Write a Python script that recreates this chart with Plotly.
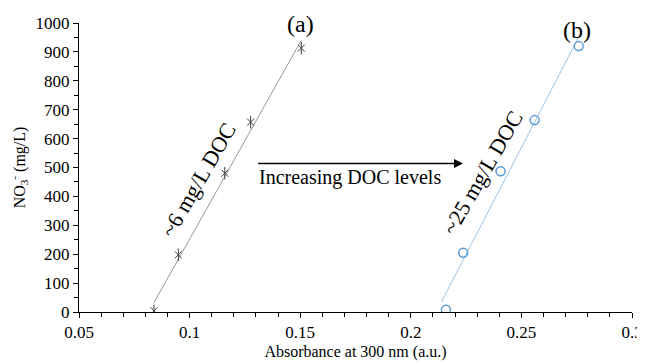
import numpy as np
import plotly.graph_objects as go

# Series (a): ~6 mg/L DOC
abs_a = [0.0839, 0.0949, 0.1159, 0.1276, 0.1505]
no3_a = [4, 198, 480, 657, 913]
# Series (b): ~25 mg/L DOC
abs_b = [0.2159, 0.2237, 0.2406, 0.2560, 0.2759]
no3_b = [8, 205, 487, 664, 920]

# trendline backward forecast (x units), like Excel's option
back_a, back_b = 0.0, 0.002

FONT = "Liberation Serif, Times New Roman, serif"
GRAY = "#404040"
BLUE = "#5B9BD5"

def fit_line(x, y, back):
    m, c = np.polyfit(x, y, 1)
    xs = np.array([min(x) - back, max(x)])
    return xs, m * xs + c

fig = go.Figure()

xa, ya = fit_line(abs_a, no3_a, back_a)
xb, yb = fit_line(abs_b, no3_b, back_b)

fig.add_trace(go.Scatter(x=xa, y=ya, mode="lines",
                         line=dict(color="#8c8c8c", width=0.9), showlegend=False, hoverinfo="skip"))
fig.add_trace(go.Scatter(x=xb, y=yb, mode="lines",
                         line=dict(color="#9DC3E6", width=1), showlegend=False, hoverinfo="skip"))

# star markers (x + vertical bar)
fig.add_trace(go.Scatter(x=abs_a, y=no3_a, mode="markers",
                         marker=dict(symbol="x-thin-open", size=7, color=GRAY, line=dict(color=GRAY, width=1)),
                         showlegend=False))
fig.add_trace(go.Scatter(x=abs_a, y=no3_a, mode="markers",
                         marker=dict(symbol="line-ns-open", size=9, color=GRAY, line=dict(color=GRAY, width=1)),
                         showlegend=False))
fig.add_trace(go.Scatter(x=abs_b, y=no3_b, mode="markers",
                         marker=dict(symbol="circle-open", size=9, color=BLUE, line=dict(color=BLUE, width=1.5)),
                         showlegend=False))

annotations = [
    dict(x=0.1501, y=1.0, xref="x", yref="paper", yanchor="middle", yshift=-1, text="(a)", showarrow=False,
         font=dict(size=24, family=FONT, color="black")),
    dict(x=0.2753, y=1.0, xref="x", yref="paper", yanchor="middle", yshift=-7, text="(b)", showarrow=False,
         font=dict(size=24, family=FONT, color="black")),
    dict(x=0.1042, y=457, xref="x", yref="y", text="~6 mg/L DOC", showarrow=False, textangle=-60,
         font=dict(size=22, family=FONT, color="black")),
    dict(x=0.2326, y=481, xref="x", yref="y", text="~25 mg/L DOC", showarrow=False, textangle=-60,
         font=dict(size=22, family=FONT, color="black")),
    dict(x=0.1725, y=467, xref="x", yref="y", text="Increasing DOC levels", showarrow=False,
         font=dict(size=20, family=FONT, color="black")),
    dict(x=0.2236, y=514, ax=0.1303, ay=514, xref="x", yref="y", axref="x", ayref="y",
         text="", showarrow=True, arrowhead=2, arrowsize=1.2, arrowwidth=1.5, arrowcolor="black"),
]

# page body adds an 8px offset, so the figure is sized to fit the window
fig.update_layout(
    width=637, height=356,
    margin=dict(l=71, r=13, t=15, b=52),
    paper_bgcolor="white", plot_bgcolor="white",
    font=dict(family=FONT, size=16, color="black"),
    annotations=annotations,
    showlegend=False,
)
fig.update_xaxes(
    range=[0.05, 0.3], dtick=0.05, tick0=0.05, showgrid=False, zeroline=False,
    showline=True, linecolor="black", linewidth=1, automargin=False,
    ticks="outside", ticklen=5, tickcolor="black", tickwidth=1,
    minor=dict(ticks="outside", dtick=0.01, tick0=0.05, ticklen=4, tickcolor="black", showgrid=False),
    tickfont=dict(size=17, family=FONT),
    title=dict(text="Absorbance at 300 nm (a.u.)", font=dict(size=16, family=FONT), standoff=4),
)
fig.update_yaxes(
    range=[0, 1000], dtick=100, showgrid=False, zeroline=False,
    showline=True, linecolor="black", linewidth=1, automargin=False,
    ticks="outside", ticklen=5, tickcolor="black", tickwidth=1,
    minor=dict(ticks="outside", dtick=50, ticklen=4, tickcolor="black", showgrid=False),
    tickfont=dict(size=17, family=FONT),
    title=dict(text="NO<sub>3</sub><sup>-</sup> (mg/L)", font=dict(size=16, family=FONT), standoff=9),
)

fig.write_html("out.html")
